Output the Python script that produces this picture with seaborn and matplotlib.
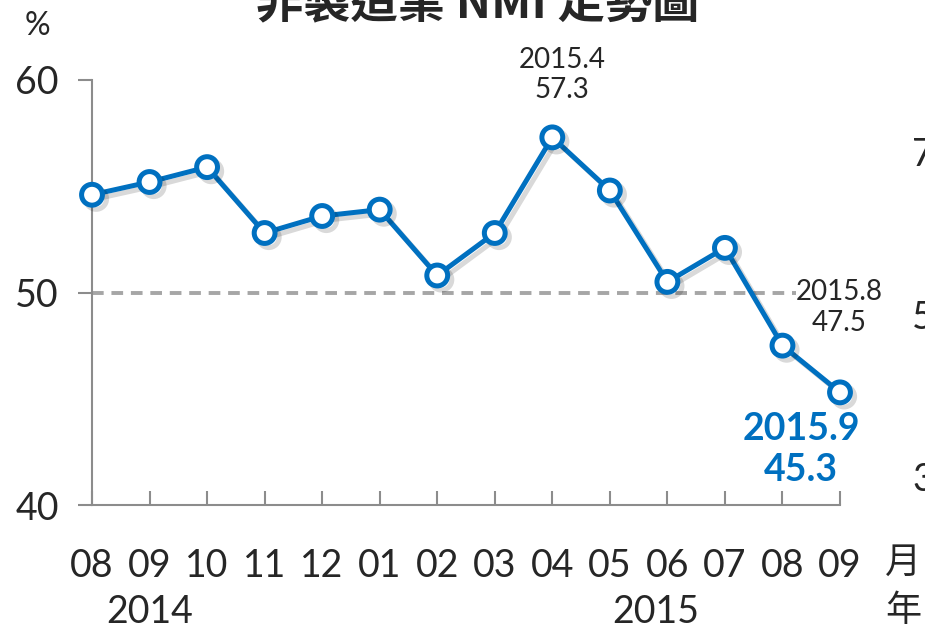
import matplotlib
matplotlib.use("Agg")
import matplotlib.pyplot as plt
import matplotlib.patheffects as pe
import matplotlib.transforms as mtransforms
import seaborn as sns
import pandas as pd

months = ["08", "09", "10", "11", "12", "01", "02", "03", "04", "05", "06", "07", "08", "09"]
years = ["2014", "2015"]
year_pos = [1, 9.8]
nmi = [54.6, 55.2, 55.9, 52.8, 53.6, 53.9, 50.8, 52.8, 57.3, 54.8, 50.5, 52.1, 47.5, 45.3]
right_ticks = ["70", "50", "30"]

BLUE = "#0070C0"
GREY = "#8C8C8C"

sns.set_theme(style="white")
plt.rcParams["font.family"] = ["Lato", "Noto Sans CJK TC", "DejaVu Sans"]

df = pd.DataFrame({"idx": range(len(nmi)), "nmi": nmi})

fig = plt.figure(figsize=(9.25, 6.31), dpi=100)
ax = fig.add_axes([92 / 925, 1 - 505 / 631, 748 / 925, 425 / 631])

# 50 reference line
ax.axhline(50, color="#A6A6A6", lw=2.8, ls=(0, (3, 2)), zorder=1)

sns.lineplot(data=df, x="idx", y="nmi", ax=ax, color=BLUE, lw=3.6,
             marker="o", markersize=15, markerfacecolor="white",
             markeredgecolor=BLUE, markeredgewidth=3.6, clip_on=False, zorder=3,
             path_effects=[pe.SimpleLineShadow(offset=(3, -3), shadow_color="black", alpha=0.15),
                           pe.Normal()])

ax.set_xlim(0, 13)
ax.set_ylim(40, 60)
ax.set_yticks([40, 50, 60])
ax.set_yticklabels(["40", "50", "60"], fontsize=27)
ax.set_xticks(range(len(months)))
ax.set_xticklabels(months, fontsize=27)
ax.set_xlabel("")
ax.set_ylabel("")

for s in ["top", "right"]:
    ax.spines[s].set_visible(False)
for s in ["left", "bottom"]:
    ax.spines[s].set_color(GREY)
    ax.spines[s].set_linewidth(1.5)

ax.tick_params(axis="y", direction="out", length=10, width=1.5, color=GREY, pad=14, left=True)
ax.tick_params(axis="x", direction="in", length=10, width=1.5, color=GREY, pad=31, bottom=True)

# year labels under months
trans = mtransforms.blended_transform_factory(ax.transData, fig.transFigure)
for yr, xp in zip(years, year_pos):
    ax.text(xp, 1 - 612 / 631, yr, transform=trans, ha="center", va="center", fontsize=27)

# data labels
ax.annotate("2015.4\n57.3", xy=(8, 57.3), xytext=(10, 34), textcoords="offset pixels",
            ha="center", va="bottom", fontsize=20, linespacing=1.2)
ax.annotate("2015.8\n47.5", xy=(12, 47.5), xytext=(57, 10), textcoords="offset pixels",
            ha="center", va="bottom", fontsize=20, linespacing=1.2,
            bbox=dict(facecolor="white", edgecolor="none", pad=0))
ax.annotate("2015.9\n45.3", xy=(13, 45.3), xytext=(-39, -20), textcoords="offset pixels",
            ha="center", va="top", fontsize=27, fontweight="bold", color=BLUE,
            linespacing=1.25, annotation_clip=False)

# unit labels
fig.text(37 / 925, 1 - 26 / 631, "%", ha="center", va="center", fontsize=23)
fig.text(903 / 925, 1 - 562 / 631, "月", ha="center", va="center", fontsize=26)
fig.text(903 / 925, 1 - 610 / 631, "年", ha="center", va="center", fontsize=26)

# secondary axis labels, cut by the right edge as in the source
for lab, yp in zip(right_ticks, [155, 318, 480]):
    fig.text(912 / 925, 1 - yp / 631, lab, ha="left", va="center", fontsize=27)

fig.text(478 / 925, 1 - 4 / 631, "非製造業 NMI 走勢圖", ha="center", va="center",
         fontsize=34, fontweight="bold", family=["Noto Sans CJK TC", "DejaVu Sans"])

fig.savefig("out.png", dpi=100)
